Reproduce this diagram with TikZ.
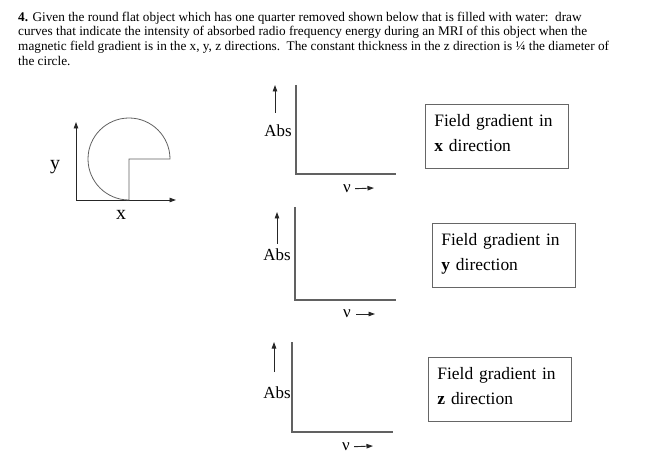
\documentclass[tikz,border=0pt]{standalone}
\usepackage{fontspec}
\setmainfont{Liberation Serif}
\usetikzlibrary{arrows.meta}

\tikzset{
	axis/.style={draw=black!62, line width=1.1pt},
	arr/.style={-{Triangle[length=6.5bp,width=4.5bp]}, line width=0.9pt, black!85},
	lbl/.style={inner sep=0pt, font=\fontsize{17}{19}\selectfont},
	fieldbox/.style={draw=black!60, line width=0.9pt, anchor=north west,
		minimum width=143bp, text width=125bp, inner xsep=9bp, inner ysep=10bp,
		text height=12bp, text depth=32bp, align=left, font=\fontsize{17.5}{25}\selectfont},
}

\begin{document}
\begin{tikzpicture}[x=1bp,y=-1bp]
	\useasboundingbox (0,0) rectangle (662,466);

	% question text
	\node[anchor=north west, inner sep=0pt, align=left,
		font=\fontsize{13.3}{15}\selectfont] (question) at (18,11.5)
	{
		\textbf{4.} Given the round flat object which has one quarter removed shown below that is filled with water:\ \ draw\\
		curves that indicate the intensity of absorbed radio frequency energy during an MRI of this object when the\\
		magnetic field gradient is in the x, y, z directions.\ \ The constant thickness in the z direction is \textonequarter{} the diameter of\\
		the circle.
	};

	% object with one quarter cut away
	\coordinate (origin) at (76,200);
	\coordinate (ytip) at (76,122);
	\coordinate (xtip) at (176,200);
	\draw[arr] (origin) -- (ytip);
	\draw[arr] (origin) -- (xtip);
	\coordinate (centre) at (129,159);
	\draw[axis, line width=0.8pt] (170,159) arc[start angle=0, end angle=270, radius=41bp] -- (centre) -- cycle;
	\node[font=\fontsize{20}{22}\selectfont, inner sep=0pt] (ylabel) at (55,167) {y};
	\node[font=\fontsize{20}{22}\selectfont, inner sep=0pt] (xlabel) at (121,215) {x};

	% graph for x
	\coordinate (top1) at (296,85);
	\coordinate (org1) at (296,174);
	\coordinate (end1) at (396,174);
	\draw[axis] (top1) -- (org1) -- (end1);
	\node[lbl] (abs1) at (278,131) {Abs};
	\coordinate (upfoot1) at (275,113);
	\coordinate (uptip1) at (275,85);
	\draw[arr] (upfoot1) -- (uptip1);
	\node[lbl, inner xsep=4bp] (nu1) at (347,189) {ν};
	\coordinate (nutip1) at (374,188);
	\draw[arr] (nu1) -- (nutip1);
	\node[fieldbox] (box1) at (425,104) {Field gradient in\\ \textbf{x} direction};

	% graph for y
	\coordinate (top2) at (295,207);
	\coordinate (org2) at (295,300);
	\coordinate (end2) at (396,300);
	\draw[axis] (top2) -- (org2) -- (end2);
	\node[lbl] (abs2) at (277,255) {Abs};
	\coordinate (upfoot2) at (277,244);
	\coordinate (uptip2) at (277,212);
	\draw[arr] (upfoot2) -- (uptip2);
	\node[lbl, inner xsep=5bp] (nu2) at (347,314) {ν};
	\coordinate (nutip2) at (375,314);
	\draw[arr] (nu2) -- (nutip2);
	\node[fieldbox] (box2) at (432,223) {Field gradient in\\ \textbf{y} direction};

	% graph for z
	\coordinate (top3) at (292,342);
	\coordinate (org3) at (292,432);
	\coordinate (end3) at (393,432);
	\draw[axis] (top3) -- (org3) -- (end3);
	\node[lbl] (abs3) at (277,393) {Abs};
	\coordinate (upfoot3) at (274,372);
	\coordinate (uptip3) at (274,342);
	\draw[arr] (upfoot3) -- (uptip3);
	\node[lbl, inner xsep=4bp] (nu3) at (346,447) {ν};
	\coordinate (nutip3) at (373,446);
	\draw[arr] (nu3) -- (nutip3);
	\node[fieldbox] (box3) at (428,357) {Field gradient in\\ \textbf{z} direction};
\end{tikzpicture}
\end{document}
